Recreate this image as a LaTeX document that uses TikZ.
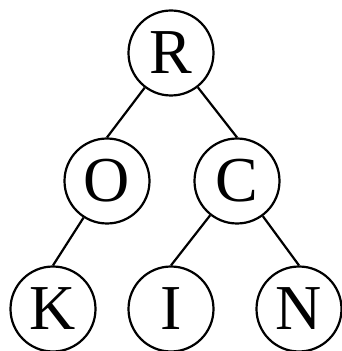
\documentclass[tikz,border=0pt]{standalone}
\usepackage{fontspec}
\setmainfont{Liberation Serif}
\begin{document}
\begin{tikzpicture}[x=1pt,y=1pt,
  tnode/.style={circle,draw,line width=2.2pt,minimum size=85pt,inner sep=0pt,font=\fontsize{64}{64}\selectfont},
  tedge/.style={line width=2.2pt}]
\useasboundingbox (0,0) rectangle (342,351);
\node[tnode] (R) at (171,298) {R};
\node[tnode] (O) at (107,170) {O};
\node[tnode] (C) at (237,170) {C};
\node[tnode] (K) at (53,42) {K};
\node[tnode] (I) at (171,42) {I};
\node[tnode] (N) at (299,42) {N};
\draw[tedge] (R) -- (O.north);
\draw[tedge] (R) -- (C.north);
\draw[tedge] (O) -- (K.north);
\draw[tedge] (C) -- (I.north);
\draw[tedge] (C) -- (N.north);
\end{tikzpicture}
\end{document}
